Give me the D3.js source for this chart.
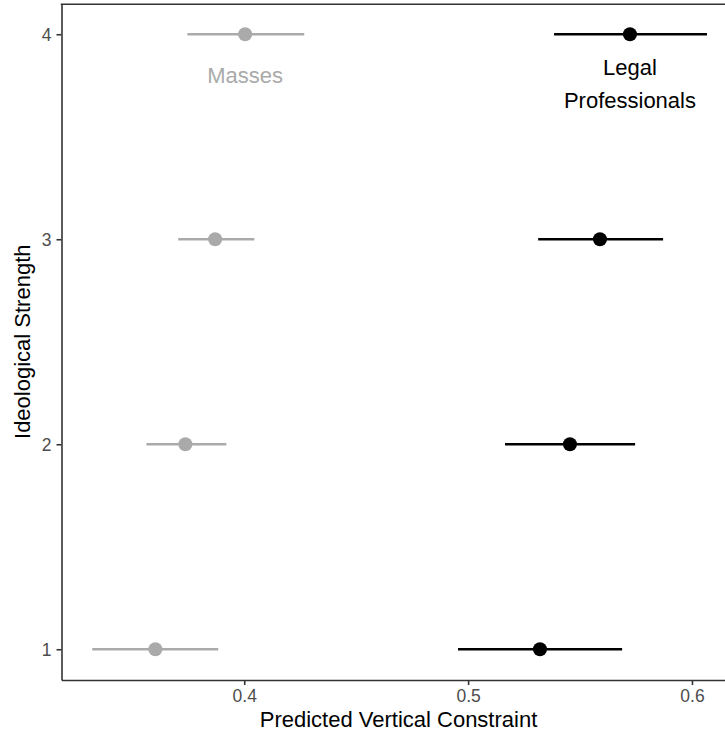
<!DOCTYPE html>
<html>
<head>
<meta charset="utf-8">
<script src="https://cdn.jsdelivr.net/npm/d3@7"></script>
<style>
  html, body { margin: 0; padding: 0; background: #fff; }
  svg { display: block; font-family: "Liberation Sans", Arial, sans-serif; }
</style>
</head>
<body>
<svg id="chart" width="725" height="736"></svg>
<script>
// Ideological strength levels (y) and predicted vertical constraint per group
const strengthLevels = [1, 2, 3, 4];

const massesEstimate = [0.3603, 0.3737, 0.3870, 0.4004];
const massesLower    = [0.3321, 0.3563, 0.3705, 0.3746];
const massesUpper    = [0.3884, 0.3920, 0.4045, 0.4268];

const legalEstimate  = [0.5321, 0.5455, 0.5589, 0.5723];
const legalLower     = [0.4955, 0.5165, 0.5313, 0.5384];
const legalUpper     = [0.5688, 0.5746, 0.5871, 0.6067];

const xTicks = [0.4, 0.5, 0.6];
const yTicks = [1, 2, 3, 4];

const groups = [
  { name: "Masses", color: "#aaaaaa", est: massesEstimate, lo: massesLower, hi: massesUpper },
  { name: "Legal Professionals", color: "#000000", est: legalEstimate, lo: legalLower, hi: legalUpper }
];

const svg = d3.select("#chart");
const panel = { left: 61.5, right: 737.7, top: 3.5, bottom: 680 };

// 5% expansion of the data range on both axes
const allVals = [...massesLower, ...massesUpper, ...legalLower, ...legalUpper];
const xmin = d3.min(allVals), xmax = d3.max(allVals);
const xpad = (xmax - xmin) * 0.05;
const x = d3.scaleLinear().domain([xmin - xpad, xmax + xpad]).range([panel.left, panel.right]);
const y = d3.scaleLinear().domain([0.85, 4.15]).range([panel.bottom, panel.top]);

// error bars and points
groups.forEach(g => {
  const rows = strengthLevels.map((s, i) => ({ s, est: g.est[i], lo: g.lo[i], hi: g.hi[i] }));
  const layer = svg.append("g");
  layer.selectAll("line.err").data(rows).enter().append("line")
    .attr("x1", d => x(d.lo)).attr("x2", d => x(d.hi))
    .attr("y1", d => y(d.s)).attr("y2", d => y(d.s))
    .attr("stroke", g.color).attr("stroke-width", 2.3);
  layer.selectAll("circle").data(rows).enter().append("circle")
    .attr("cx", d => x(d.est)).attr("cy", d => y(d.s))
    .attr("r", 7).attr("fill", g.color);
});

// group labels
svg.append("text")
  .attr("x", x(massesEstimate[3])).attr("y", 83)
  .attr("text-anchor", "middle").style("font-size", "22px")
  .attr("fill", "#aaaaaa").text("Masses");
const legalLabel = svg.append("text")
  .attr("x", x(legalEstimate[3])).attr("y", 75)
  .attr("text-anchor", "middle").style("font-size", "22px").attr("fill", "#000");
legalLabel.append("tspan").attr("x", x(legalEstimate[3])).attr("dy", 0).text("Legal");
legalLabel.append("tspan").attr("x", x(legalEstimate[3])).attr("dy", 33).text("Professionals");

// axes
const xAxis = svg.append("g")
  .attr("transform", `translate(0,${panel.bottom})`)
  .call(d3.axisBottom(x).tickValues(xTicks).tickFormat(d3.format(".1f")).tickSize(5).tickSizeOuter(0).tickPadding(5));
const yAxis = svg.append("g")
  .attr("transform", `translate(${panel.left},0)`)
  .call(d3.axisLeft(y).tickValues(yTicks).tickFormat(d3.format("d")).tickSize(5).tickSizeOuter(0).tickPadding(5));

[xAxis, yAxis].forEach(a => {
  a.attr("font-size", null).attr("font-family", null);
  a.select(".domain").attr("stroke", "#333333").attr("stroke-width", 1.6);
  a.selectAll(".tick line").attr("stroke", "#333333").attr("stroke-width", 1.6);
  a.selectAll(".tick text").attr("fill", "#4d4d4d").style("font-size", "17.5px");
});
yAxis.selectAll(".tick text").attr("dy", "0.35em");

// top border
svg.append("line")
  .attr("x1", panel.left - 0.8).attr("x2", panel.right)
  .attr("y1", panel.top + 0.8).attr("y2", panel.top + 0.8)
  .attr("stroke", "#333333").attr("stroke-width", 1.6);

// axis titles
svg.append("text")
  .attr("x", 398.5).attr("y", 727)
  .attr("text-anchor", "middle").style("font-size", "22px").attr("fill", "#000")
  .text("Predicted Vertical Constraint");
svg.append("text")
  .attr("transform", `translate(30,${(panel.top + panel.bottom) / 2}) rotate(-90)`)
  .attr("text-anchor", "middle").style("font-size", "22px").attr("fill", "#000")
  .text("Ideological Strength");
</script>
</body>
</html>
